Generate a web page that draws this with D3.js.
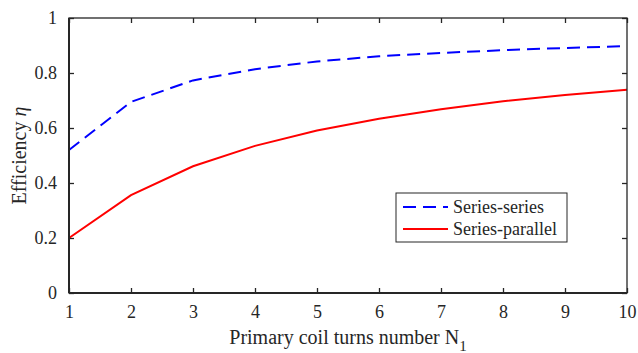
<!DOCTYPE html>
<html>
<head>
<meta charset="utf-8">
<script src="https://cdn.jsdelivr.net/npm/d3@7"></script>
</head>
<body style="margin:0; background:#fff">
<script>
var turns = [1, 2, 3, 4, 5, 6, 7, 8, 9, 10];
var seriesSeries = [0.52, 0.695, 0.773, 0.814, 0.842, 0.861, 0.873, 0.883, 0.891, 0.898];
var seriesParallel = [0.2, 0.356, 0.461, 0.535, 0.591, 0.634, 0.668, 0.697, 0.72, 0.739];
var xTicks = [1, 2, 3, 4, 5, 6, 7, 8, 9, 10];
var yTicks = [0, 0.2, 0.4, 0.6, 0.8, 1];
var legendNames = ["Series-series", "Series-parallel"];

var width = 638, height = 353;
var margin = {left: 69, right: 11, top: 18, bottom: 60};
var iw = width - margin.left - margin.right;
var ih = height - margin.top - margin.bottom;
var serif = "'Liberation Serif'";
var axisColor = "#262626";

var svg = d3.select("body").append("svg")
  .attr("width", width).attr("height", height);
var g = svg.append("g").attr("transform", "translate(" + margin.left + "," + margin.top + ")");

var x = d3.scaleLinear().domain([1, 10]).range([0, iw]);
var y = d3.scaleLinear().domain([0, 1]).range([ih, 0]);

var line = d3.line().x(function(d, i){ return x(turns[i]); }).y(function(d){ return y(d); });

g.append("path").datum(seriesParallel)
  .attr("fill", "none").attr("stroke", "#ff0000").attr("stroke-width", 2)
  .attr("d", line);
g.append("path").datum(seriesSeries)
  .attr("fill", "none").attr("stroke", "#0000ff").attr("stroke-width", 2)
  .attr("stroke-dasharray", "13,7")
  .attr("d", line);

// axes, ticks pointing in, box all round
function styleAxis(sel, hideText) {
  sel.attr("font-family", serif).attr("font-size", 18);
  sel.select(".domain").remove();
  sel.selectAll("line").attr("stroke", axisColor).attr("stroke-width", 1.3);
  sel.selectAll("text").style("font-family", serif).style("fill", axisColor);
  if (hideText) sel.selectAll("text").remove();
}
var gx = g.append("g").attr("transform", "translate(0," + ih + ")")
  .call(d3.axisBottom(x).tickValues(xTicks).tickSizeInner(-5).tickSizeOuter(0).tickPadding(12).tickFormat(d3.format("d")));
styleAxis(gx, false);
var gxt = g.append("g")
  .call(d3.axisTop(x).tickValues(xTicks).tickSizeInner(-5).tickSizeOuter(0));
styleAxis(gxt, true);
var gy = g.append("g")
  .call(d3.axisLeft(y).tickValues(yTicks).tickSizeInner(-5).tickSizeOuter(0).tickPadding(12)
    .tickFormat(function(d){ return d === 0 || d === 1 ? d : d.toFixed(1); }));
styleAxis(gy, false);
var gyr = g.append("g").attr("transform", "translate(" + iw + ",0)")
  .call(d3.axisRight(y).tickValues(yTicks).tickSizeInner(-5).tickSizeOuter(0));
styleAxis(gyr, true);

g.append("rect").attr("width", iw).attr("height", ih)
  .attr("fill", "none").attr("stroke", axisColor).attr("stroke-width", 1.3);
g.append("line").attr("x1", 0).attr("x2", 0).attr("y1", 0).attr("y2", ih)
  .attr("stroke", axisColor).attr("stroke-width", 2);
g.append("line").attr("x1", 0).attr("x2", iw).attr("y1", ih).attr("y2", ih)
  .attr("stroke", axisColor).attr("stroke-width", 2);

// axis labels
var xl = svg.append("text").attr("x", margin.left + iw / 2).attr("y", 344)
  .attr("text-anchor", "middle").style("font-size", "20px").style("font-family", serif).style("fill", axisColor);
xl.append("tspan").text("Primary coil turns number N");
xl.append("tspan").attr("dy", 7).style("font-size", "15px").text("1");

var yl = svg.append("text")
  .attr("transform", "translate(26," + (margin.top + ih / 2) + ") rotate(-90)")
  .attr("text-anchor", "middle").style("font-size", "20px").style("font-family", serif).style("fill", axisColor);
yl.append("tspan").text("Efficiency ");
yl.append("tspan").style("font-style", "italic").text("η");

// legend
var lg = svg.append("g").attr("transform", "translate(396,193)");
lg.append("rect").attr("width", 171).attr("height", 49)
  .attr("fill", "#fff").attr("stroke", axisColor).attr("stroke-width", 1);
var legendColors = ["#0000ff", "#ff0000"];
var legendDash = ["13,7", null];
legendNames.forEach(function(name, i){
  var yy = 14 + i * 22;
  var l = lg.append("line").attr("x1", 7).attr("x2", 52).attr("y1", yy).attr("y2", yy)
    .attr("stroke", legendColors[i]).attr("stroke-width", 2);
  if (legendDash[i]) l.attr("stroke-dasharray", legendDash[i]);
  lg.append("text").attr("x", 57).attr("y", yy + 6).style("font-size", "18px")
    .style("font-family", serif).style("fill", axisColor).text(name);
});
</script>
</body>
</html>
